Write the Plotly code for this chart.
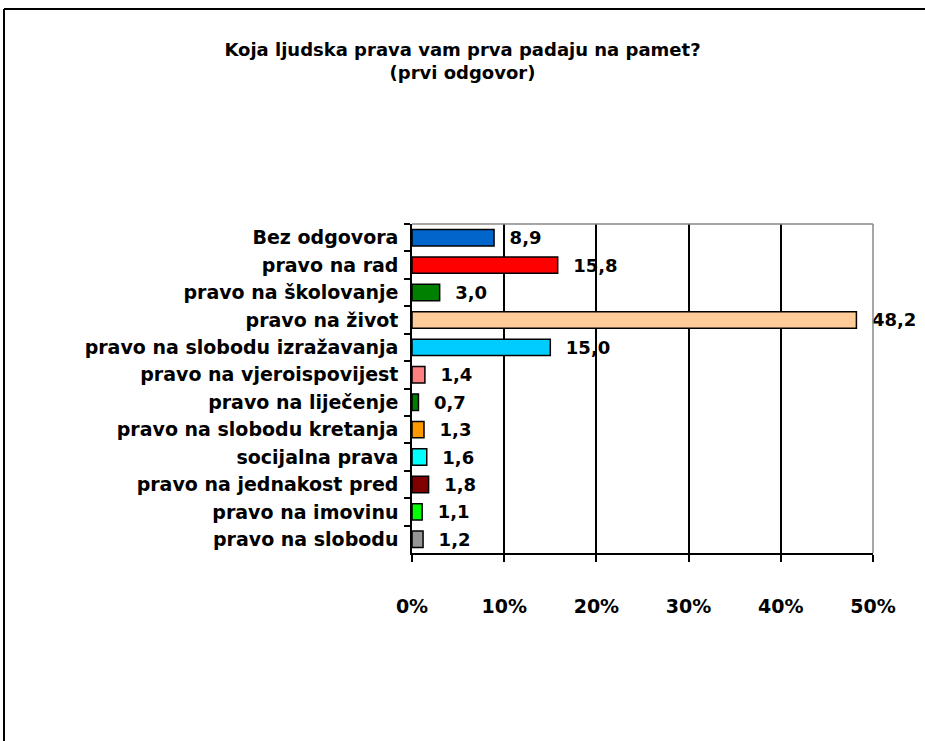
import plotly.graph_objects as go

categories = ["Bez odgovora", "pravo na rad", "pravo na školovanje", "pravo na život",
              "pravo na slobodu izražavanja", "pravo na vjeroispovijest", "pravo na liječenje",
              "pravo na slobodu kretanja", "socijalna prava", "pravo na jednakost pred",
              "pravo na imovinu", "pravo na slobodu"]
values = [8.9, 15.8, 3.0, 48.2, 15.0, 1.4, 0.7, 1.3, 1.6, 1.8, 1.1, 1.2]
colors = ["#0066CC", "#FF0000", "#008000", "#FFCC99", "#00CCFF", "#FF8080", "#008000",
          "#FF9900", "#00FFFF", "#800000", "#00FF00", "#969696"]
x_ticks = [0, 10, 20, 30, 40, 50]
x_tick_labels = ["0%", "10%", "20%", "30%", "40%", "50%"]

W, H = 925, 741
L, R, T, B = 412, 873, 224, 553
pw, ph = R - L, B - T

font = "DejaVu Sans, Verdana, sans-serif"

fig = go.Figure(go.Bar(
    y=categories, x=values, orientation="h",
    marker=dict(color=colors, line=dict(color="black", width=1.5)),
    text=[("%.1f" % v).replace(".", ",") for v in values],
    texttemplate="  %{text}", textposition="outside", cliponaxis=False,
    constraintext="none",
    textfont=dict(family=font, size=18, color="black", weight="bold"),
    width=0.6,
))

fig.update_layout(
    width=W, height=H,
    margin=dict(l=L, r=W - R, t=T, b=H - B, pad=0),
    paper_bgcolor="white", plot_bgcolor="white",
    showlegend=False,
    title=dict(text="Koja ljudska prava vam prva padaju na pamet?<br>(prvi odgovor)",
               x=0.5, xanchor="center", y=1 - 56 / H, yanchor="middle", yref="container",
               font=dict(family=font, size=18, color="black", weight="bold")),
    font=dict(family=font, color="black"),
    xaxis=dict(range=[0, 50], tickvals=x_ticks, ticktext=x_tick_labels, showgrid=True,
               gridcolor="black", gridwidth=1.5, showline=True, linecolor="black",
               linewidth=1.5, ticks="outside", ticklen=7, tickwidth=1.5, tickcolor="black",
               ticklabelstandoff=28,
               tickfont=dict(family=font, size=19, color="black", weight="bold"),
               zeroline=False),
    yaxis=dict(autorange="reversed", showline=True, linecolor="black", linewidth=1.5,
               ticks="outside", ticklen=6, tickwidth=1.5, tickcolor="black",
               tickson="boundaries", showgrid=False, ticklabelstandoff=8,
               tickfont=dict(family=font, size=19, color="black", weight="bold")),
    bargap=0.4,
    shapes=[
        dict(type="line", xref="paper", yref="paper", x0=0, x1=1, y0=1, y1=1,
             line=dict(color="#888888", width=1.5)),
        dict(type="line", xref="paper", yref="paper", x0=1, x1=1, y0=0, y1=1,
             line=dict(color="#888888", width=1.5)),
        dict(type="line", xref="paper", yref="paper", x0=(4 - L) / pw, x1=(W + 5 - L) / pw,
             y0=(B - 9) / ph, y1=(B - 9) / ph, line=dict(color="black", width=2)),
        dict(type="line", xref="paper", yref="paper", x0=(4 - L) / pw, x1=(4 - L) / pw,
             y0=(B - 9) / ph, y1=(B - H - 5) / ph, line=dict(color="black", width=2)),
    ],
)

fig.write_html("out.html", config={"displayModeBar": False},
               post_script="document.body.style.margin='0';")
